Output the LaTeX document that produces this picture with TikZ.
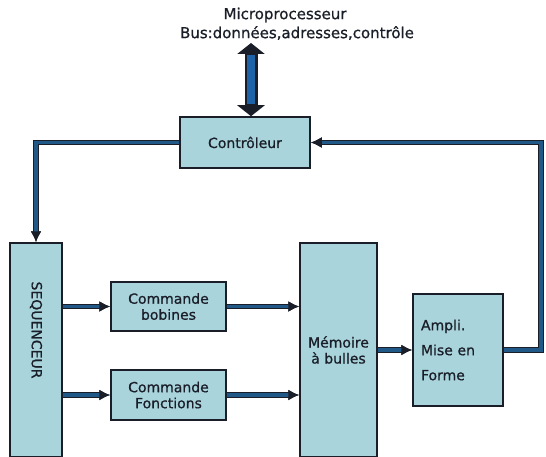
\documentclass[tikz,border=0pt]{standalone}
\usepackage{fontspec}
\setmainfont{DejaVu Sans}[FakeBold=0.8]
\usetikzlibrary{arrows.meta}
\definecolor{boxfill}{RGB}{170,212,220}
\definecolor{linkblue}{RGB}{32,88,136}
\definecolor{busblue}{RGB}{30,98,168}
\definecolor{edge}{RGB}{25,30,40}
\tikzset{
  blk/.style={draw=edge, line width=1.5pt, fill=boxfill, inner sep=2pt, font=\fontsize{14}{16}\selectfont, text=edge},
  link/.style={line width=3.2pt, linkblue, preaction={draw, edge, line width=5.8pt}},
  tip/.style={-{Latex[length=11pt,width=11pt,color=edge]}},
}
\begin{document}
\begin{tikzpicture}[x=1pt,y=-1pt]
\useasboundingbox (0,0) rectangle (546,457);
% labels
\node[font=\fontsize{15}{16}\selectfont, text=edge] (mp) at (285,15) {Microprocesseur};
\node[font=\fontsize{15}{16}\selectfont, text=edge] (busl) at (297,33) {Bus:données,adresses,contrôle};
% boxes
\node[blk, minimum width=130pt, minimum height=51pt] (ctrl) at (245,142.5) {Contrôleur};
\node[blk, minimum width=52pt, minimum height=214pt] (seq) at (36,350) {};
\node[font=\fontsize{14}{16}\selectfont, text=edge, rotate=-90] (seqt) at (36,330) {SEQUENCEUR};
\node[blk, minimum width=115pt, minimum height=49pt, align=center] (cb) at (168.5,306.5) {Commande\\bobines};
\node[blk, minimum width=115pt, minimum height=50pt, align=center] (cf) at (168.5,395) {Commande\\Fonctions};
\node[blk, minimum width=77pt, minimum height=214pt, align=center] (mem) at (338.5,350) {Mémoire\\à bulles};
\node[blk, minimum width=90pt, minimum height=112pt, text width=74pt, align=left, font=\fontsize{14}{25}\selectfont] (amp) at (458,350) {Ampli.\\Mise en\\Forme};
% bus double arrow
\coordinate (bus) at (251,43);
\draw[edge, line width=13pt, {Triangle[length=11pt,width=27pt]}-{Triangle[length=11pt,width=27pt]}] (bus) -- (bus |- ctrl.north);
\draw[busblue, line width=8pt, shorten <=12pt, shorten >=12pt] (bus) -- (bus |- ctrl.north);
% feedback loops
\draw[link, tip] (ctrl.west) -| (seq.north);
\coordinate (rc) at (541,0);
\draw[link, tip] (amp.east) -- (amp.east -| rc) |- (ctrl.east);
% forward arrows
\draw[link, tip] (seq.east |- cb.west) -- (cb.west);
\draw[link, tip] (seq.east |- cf.west) -- (cf.west);
\draw[link, tip] (cb.east) -- (cb.east -| mem.west);
\draw[link, tip] (cf.east) -- (cf.east -| mem.west);
\draw[link, tip] (mem.east |- amp.west) -- (amp.west);
\end{tikzpicture}
\end{document}
